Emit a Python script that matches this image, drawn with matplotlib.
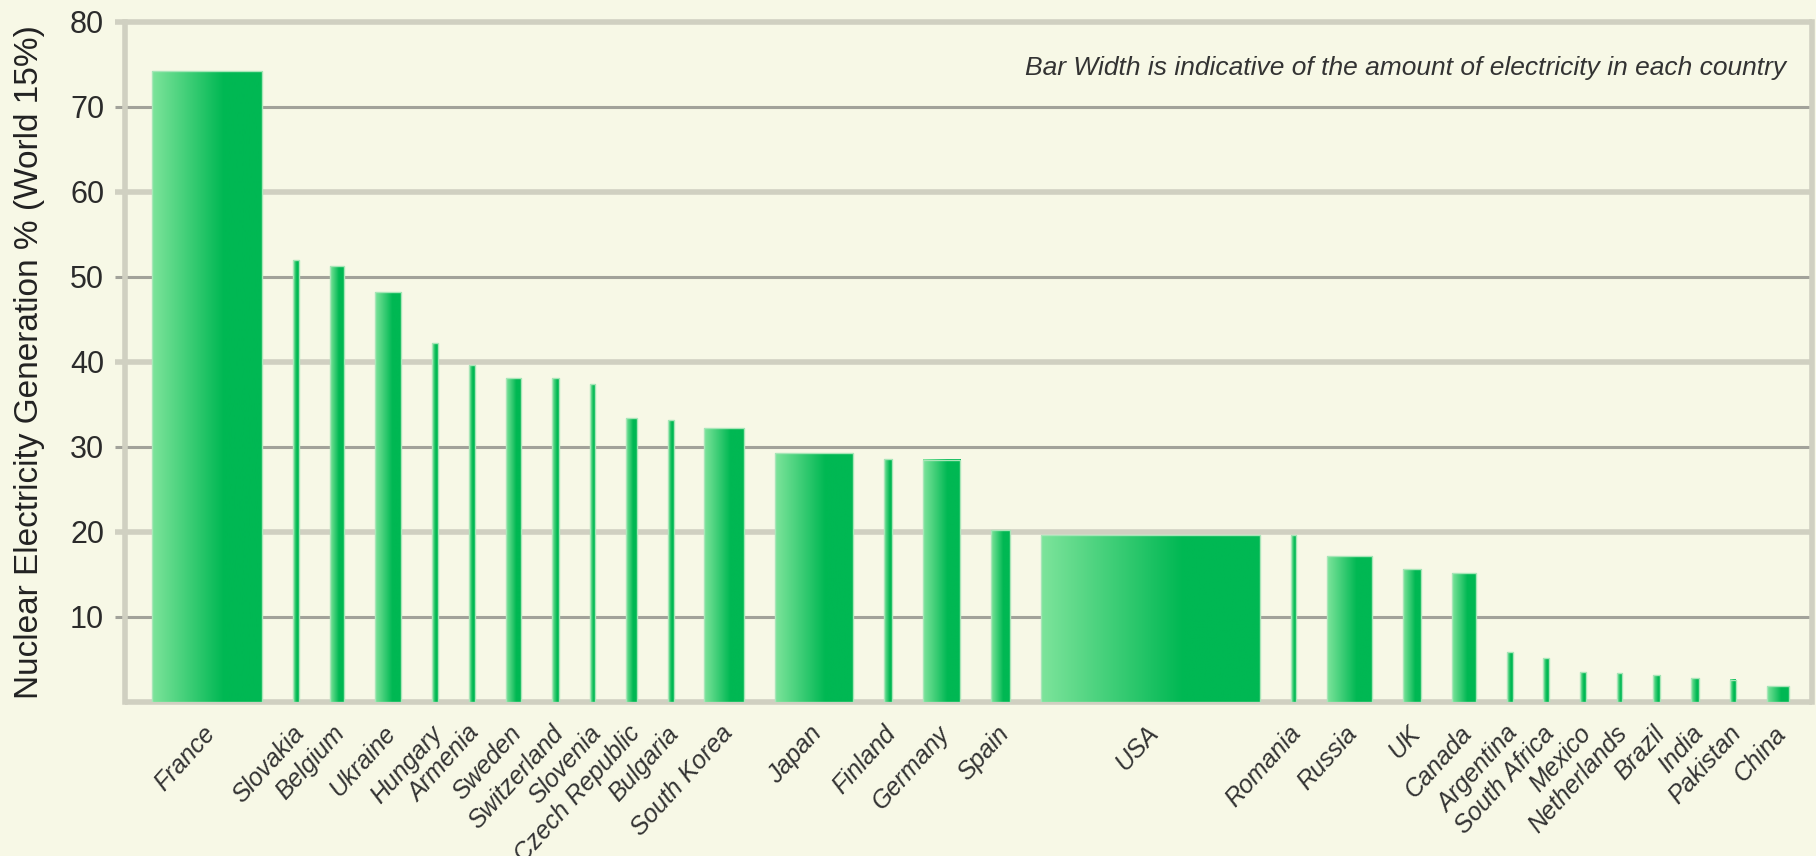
import numpy as np
import matplotlib.pyplot as plt
import matplotlib.transforms as mtransforms
from matplotlib.colors import LinearSegmentedColormap

# Countries, nuclear share of electricity (%) and amount of nuclear electricity (TWh, sets bar width)
countries = ['France', 'Slovakia', 'Belgium', 'Ukraine', 'Hungary', 'Armenia', 'Sweden',
             'Switzerland', 'Slovenia', 'Czech Republic', 'Bulgaria', 'South Korea', 'Japan',
             'Finland', 'Germany', 'Spain', 'USA', 'Romania', 'Russia', 'UK', 'Canada',
             'Argentina', 'South Africa', 'Mexico', 'Netherlands', 'Brazil', 'India',
             'Pakistan', 'China']
share = [74.2, 52.0, 51.3, 48.2, 42.2, 39.6, 38.1, 38.1, 37.4, 33.4, 33.1, 32.2, 29.3,
         28.6, 28.5, 20.2, 19.6, 19.6, 17.1, 15.6, 15.1, 5.8, 5.1, 3.5, 3.4, 3.1, 2.8,
         2.6, 1.8]
amount = [414, 22, 52, 98, 22, 22, 58, 28, 19, 39, 22, 150, 290, 30, 142, 69, 821, 19,
          171, 68, 88, 22, 22, 21, 19, 28, 30, 22, 81]
yticks = [10, 20, 30, 40, 50, 60, 70, 80]

bg = '#F7F8E6'
light_grid = '#D0D0C1'
dark_grid = '#A2A29A'
fonts = ['Liberation Sans', 'DejaVu Sans']

# spacing between bars and at the ends, in the same units as the widths
gap = 116
left_pad = 101
right_pad = 88

amount = np.array(amount, dtype=float)
n = len(countries)
lefts = left_pad + np.concatenate([[0], np.cumsum(amount[:-1])]) + gap * np.arange(n)
centers = lefts + amount / 2
total = lefts[-1] + amount[-1] + right_pad

fig = plt.figure(figsize=(18.16, 8.56), dpi=100, facecolor=bg)
ax = fig.add_axes([125 / 1816, 154.3 / 856, 1687 / 1816, 679.7 / 856])
ax.set_facecolor(bg)
for s in ax.spines.values():
    s.set_visible(False)

# grid lines, alternating light / dark, with short stubs left of the axis
ytr = ax.get_yaxis_transform()
for v in yticks:
    if v % 20 == 0:
        ax.plot([-10 / 1687, 1], [v, v], transform=ytr, color=light_grid, lw=4,
                solid_capstyle='butt', clip_on=False, zorder=1)
    else:
        ax.plot([-10 / 1687, 1], [v, v], transform=ytr, color=dark_grid, lw=2.2,
                solid_capstyle='butt', clip_on=False, zorder=1)
ax.plot([0, 1], [0, 0], transform=ytr, color=light_grid, lw=4, solid_capstyle='butt',
        clip_on=False, zorder=1)
ax.plot([0, 0], [0, 1], transform=ax.transAxes, color=light_grid, lw=4, clip_on=False, zorder=1)
ax.plot([1, 1], [0, 1], transform=ax.transAxes, color=light_grid, lw=4, clip_on=False, zorder=1)

# bars with a horizontal green gradient
bars = ax.bar(centers, share, width=amount, facecolor='none', edgecolor='#A8E6B8',
              linewidth=1.0, zorder=3)
cmap = LinearSegmentedColormap.from_list('grn', [(0, '#7DE49B'), (0.65, '#00B853'),
                                                 (1, '#00B853')])
grad = np.linspace(0, 1, 128).reshape(1, -1)
for b in bars:
    x0 = b.get_x()
    ax.imshow(grad, cmap=cmap, extent=[x0, x0 + b.get_width(), 0, b.get_height()],
              aspect='auto', interpolation='bilinear', zorder=2)

ax.set_xlim(0, total)
ax.set_ylim(0, 80)

ax.set_yticks(yticks)
ax.set_yticklabels([str(v) for v in yticks], fontsize=22, color='#2B2B2B', fontfamily=fonts)
ax.tick_params(axis='y', length=0, pad=15)

ax.set_xticks(centers)
ax.set_xticklabels(countries, rotation=48, ha='right', va='center', rotation_mode='anchor',
                   fontsize=18, style='italic', color='#333333', fontfamily=fonts)
ax.tick_params(axis='x', length=0, pad=20)
offset = mtransforms.ScaledTranslation(4 / 100, 0, fig.dpi_scale_trans)
for lbl in ax.get_xticklabels():
    lbl.set_transform(lbl.get_transform() + offset)

ax.set_ylabel('Nuclear Electricity Generation % (World 15%)', fontsize=24, color='#222222',
              fontfamily=fonts, va='center')
ax.yaxis.set_label_coords(-95 / 1687, 0.5)

ax.text(0.9846, 74.6, 'Bar Width is indicative of the amount of electricity in each country',
        transform=ytr, ha='right', va='center', fontsize=19, style='italic',
        color='#333333', fontfamily=fonts)

fig.savefig('out.png', dpi=100, facecolor=bg)
